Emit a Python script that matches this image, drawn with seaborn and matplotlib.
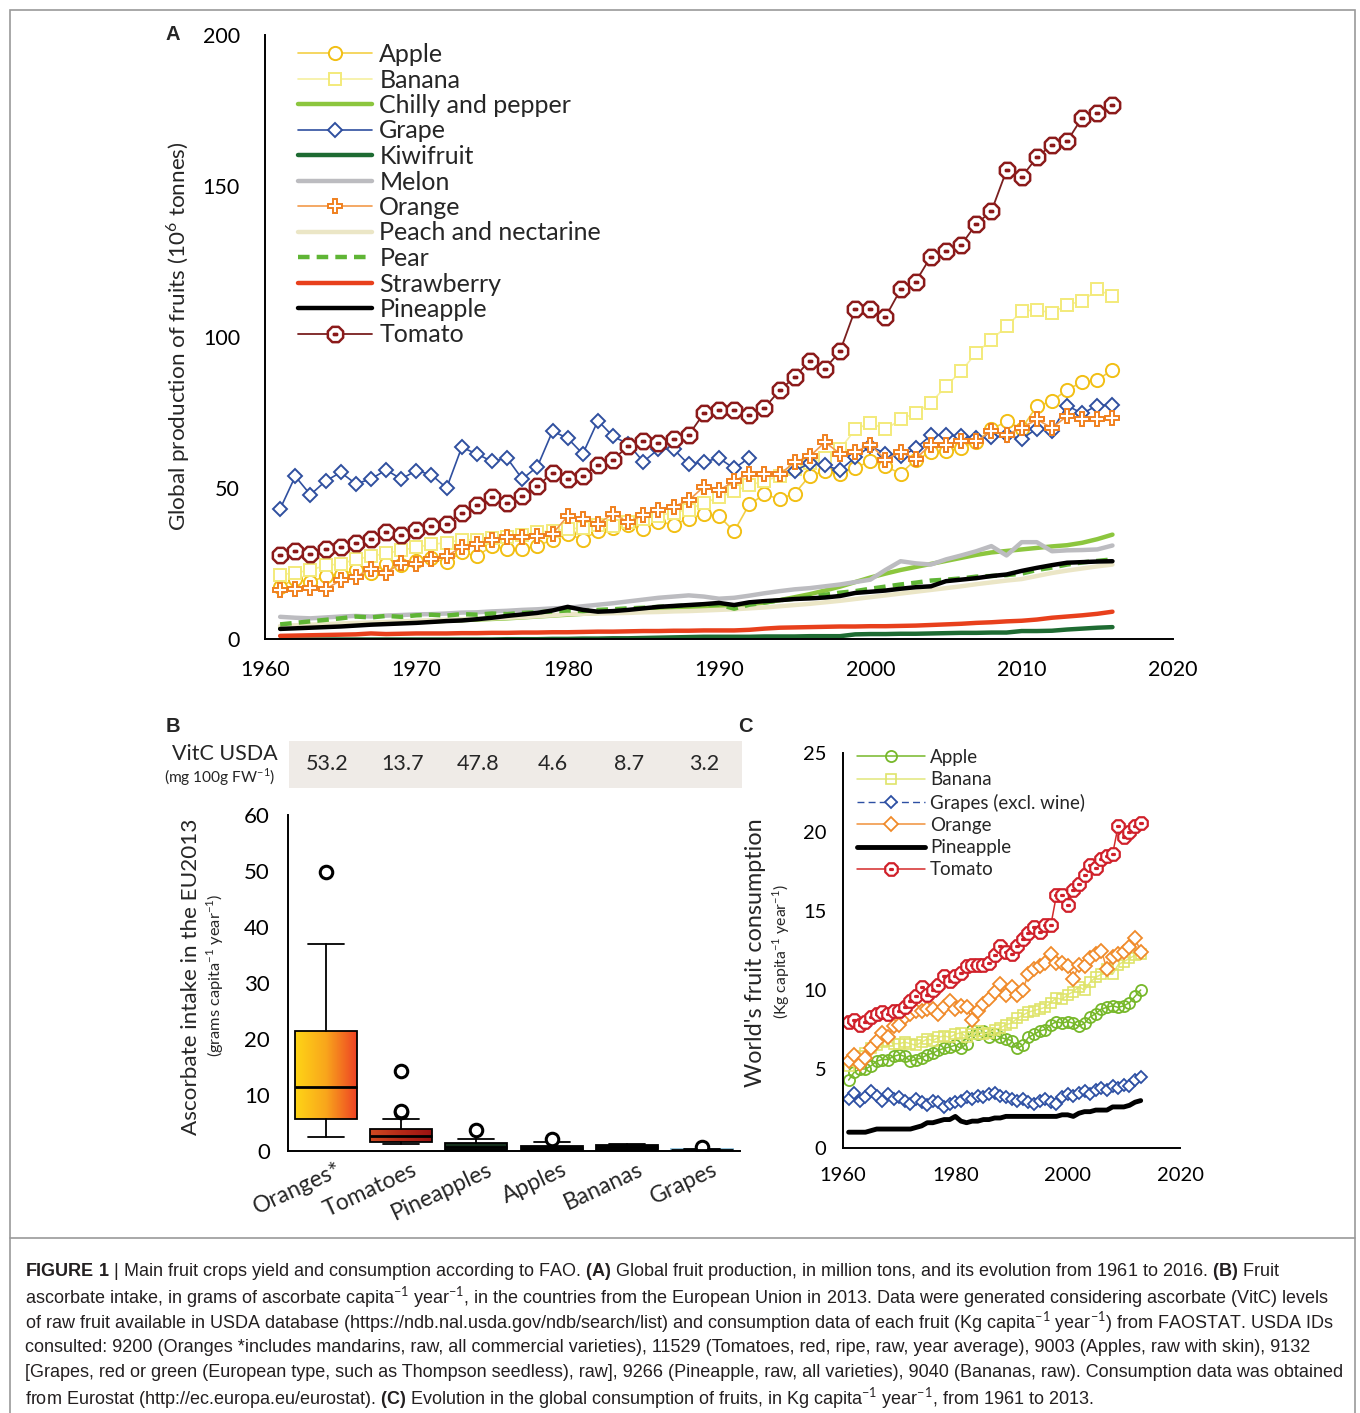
import numpy as np
import pandas as pd
import matplotlib
matplotlib.use("Agg")
import matplotlib.pyplot as plt
import seaborn as sns
from matplotlib.path import Path
from matplotlib.patches import Rectangle
from matplotlib.lines import Line2D
from matplotlib.colors import LinearSegmentedColormap
from matplotlib import font_manager

# ---------------- data: panel A (10^6 tonnes, 1961-2016) ----------------
years_a = list(range(1961, 2017))
apple_a = [17.5, 20.0, 19.0, 21.0, 21.5, 23.0, 22.0, 25.0, 24.5, 26.0,
           27.0, 25.5, 29.0, 27.5, 31.0, 30.0, 30.0, 31.0, 33.0, 35.0,
           33.0, 36.0, 37.0, 38.0, 36.5, 39.0, 38.0, 40.0, 41.5, 40.8,
           35.8, 44.7, 48.0, 46.5, 48.3, 54.2, 55.7, 54.9, 56.8, 59.0,
           57.3, 54.9, 59.5, 62.0, 62.3, 63.4, 65.5, 69.5, 72.2, 69.8,
           77.2, 78.8, 82.7, 85.1, 85.8, 89.3]
banana_a = [21.5, 22.0, 23.0, 24.5, 25.0, 26.5, 27.5, 28.5, 29.5, 30.5,
            31.5, 32.0, 33.0, 33.0, 33.5, 33.8, 34.5, 35.5, 36.0, 36.5,
            37.0, 38.0, 37.5, 39.0, 40.0, 41.0, 42.0, 43.0, 45.2, 47.0,
            49.0, 51.0, 52.5, 54.0, 56.5, 58.5, 60.0, 63.0, 69.5, 71.7,
            69.5, 72.8, 75.0, 78.3, 83.8, 88.8, 94.8, 99.2, 103.6, 108.6,
            109.1, 108.0, 110.8, 111.9, 115.8, 113.6]
chilly_a = [4.0, 4.2, 4.4, 4.6, 4.8, 5.0, 5.2, 5.4, 5.6, 5.8,
            6.0, 6.2, 6.4, 6.6, 6.8, 7.0, 7.3, 7.6, 7.9, 8.2,
            8.5, 8.8, 9.0, 9.3, 9.6, 9.9, 10.2, 10.5, 10.8, 11.0,
            11.2, 11.6, 12.2, 13.0, 14.0, 15.0, 16.2, 17.5, 19.0, 20.5,
            21.8, 23.0, 24.0, 25.0, 26.0, 27.0, 28.0, 28.8, 29.3, 29.8,
            30.3, 30.8, 31.2, 32.0, 33.2, 34.7]
grape_a = [43.2, 54.0, 47.9, 52.4, 55.3, 51.5, 53.1, 56.1, 53.1, 55.9,
           54.5, 50.1, 63.6, 61.4, 58.9, 60.0, 53.1, 57.2, 68.9, 66.6,
           61.4, 72.4, 67.2, 64.7, 58.8, 63.0, 63.0, 57.9, 58.8, 60.0,
           56.6, 60.1, np.nan, np.nan, 55.7, 58.4, 57.6, 56.0, 60.3, 63.9,
           61.5, 60.6, 63.2, 67.6, 67.6, 67.3, 66.7, 66.9, 67.6, 66.4,
           69.7, 68.9, 77.4, 74.8, 77.4, 77.7]
kiwi_a = [0.0, 0.0, 0.0, 0.0, 0.0, 0.0, 0.0, 0.0, 0.0, 0.0,
          0.0, 0.0, 0.0, 0.0, 0.0, 0.1, 0.1, 0.1, 0.2, 0.2,
          0.3, 0.3, 0.4, 0.4, 0.5, 0.6, 0.7, 0.8, 0.9, 0.9,
          0.9, 0.9, 1.0, 1.0, 1.0, 1.1, 1.1, 1.1, 1.7, 1.8,
          1.8, 1.9, 1.9, 2.0, 2.1, 2.2, 2.2, 2.3, 2.3, 2.8,
          2.8, 2.9, 3.3, 3.6, 3.9, 4.1]
melon_a = [7.5, 7.2, 7.0, 7.3, 7.6, 7.8, 7.6, 7.9, 8.1, 8.3,
           8.4, 8.6, 8.9, 9.0, 9.3, 9.5, 9.8, 10.0, 10.3, 10.5,
           11.0, 11.5, 12.0, 12.6, 13.2, 13.8, 14.2, 14.6, 14.2, 13.5,
           13.8, 14.5, 15.3, 16.0, 16.6, 17.0, 17.6, 18.2, 19.0, 19.8,
           23.0, 25.9, 25.2, 24.8, 26.5, 27.8, 29.2, 30.9, 27.8, 32.2,
           32.2, 29.2, 29.5, 29.6, 29.8, 31.1]
orange_a = [16.3, 16.6, 17.1, 16.6, 19.6, 20.7, 23.4, 22.1, 25.3, 25.1,
            26.7, 27.6, 30.6, 31.7, 32.8, 33.9, 33.9, 34.2, 35.0, 40.8,
            39.9, 38.3, 41.6, 38.8, 41.2, 43.0, 44.0, 46.0, 50.6, 49.3,
            52.4, 54.9, 54.9, 54.6, 58.7, 60.6, 65.3, 61.5, 62.0, 64.5,
            59.5, 62.0, 59.8, 64.5, 64.5, 65.6, 65.6, 68.9, 67.8, 70.0,
            72.8, 70.0, 73.9, 72.8, 72.8, 73.3]
peach_a = [4.5, 4.7, 4.9, 5.1, 5.3, 5.5, 5.6, 5.8, 6.0, 6.2,
           6.4, 6.5, 6.7, 6.9, 7.0, 7.2, 7.4, 7.7, 8.0, 8.4,
           8.5, 8.6, 8.7, 8.8, 9.0, 9.1, 9.3, 9.4, 9.6, 9.8,
           10.0, 10.3, 10.6, 11.0, 11.4, 11.8, 12.3, 12.8, 13.4, 14.0,
           14.6, 15.2, 15.8, 16.4, 17.0, 17.6, 18.3, 18.9, 19.5, 20.0,
           21.0, 22.0, 22.8, 23.5, 24.2, 24.8]
pear_a = [5.0, 5.5, 6.0, 6.5, 7.0, 7.6, 7.3, 7.8, 7.5, 8.0,
          8.2, 7.9, 8.4, 8.2, 8.6, 8.4, 8.8, 9.0, 9.3, 9.6,
          9.4, 9.8, 10.0, 10.3, 10.5, 10.8, 11.0, 11.3, 11.5, 11.6,
          10.2, 11.5, 12.2, 13.0, 13.5, 14.0, 14.8, 15.5, 16.0, 16.8,
          17.5, 18.2, 18.8, 19.5, 19.8, 20.2, 20.8, 21.0, 21.3, 21.8,
          23.0, 23.8, 24.8, 25.5, 26.0, 26.5]
strawberry_a = [1.2, 1.3, 1.4, 1.5, 1.6, 1.7, 2.0, 1.8, 1.9, 2.0,
                2.0, 2.0, 2.1, 2.1, 2.2, 2.2, 2.3, 2.3, 2.4, 2.4,
                2.5, 2.6, 2.6, 2.7, 2.8, 2.8, 2.9, 2.9, 3.0, 3.0,
                3.0, 3.2, 3.6, 3.9, 4.0, 4.1, 4.2, 4.3, 4.3, 4.4,
                4.4, 4.5, 4.6, 4.8, 5.0, 5.2, 5.5, 5.7, 6.0, 6.2,
                6.6, 7.2, 7.6, 8.0, 8.5, 9.2]
pineapple_a = [3.5, 3.7, 3.9, 4.1, 4.3, 4.6, 4.9, 5.1, 5.3, 5.5,
               5.8, 6.1, 6.3, 6.7, 7.2, 7.8, 8.3, 8.8, 9.6, 10.8,
               9.8, 9.2, 9.4, 9.8, 10.3, 10.8, 11.1, 11.4, 11.7, 12.1,
               11.4, 12.3, 12.7, 13.0, 13.4, 13.6, 13.9, 14.4, 15.4, 15.8,
               16.2, 16.8, 17.3, 17.6, 19.3, 19.8, 20.3, 21.0, 21.5, 22.7,
               23.7, 24.6, 25.4, 25.6, 25.8, 25.9]
tomato_a = [27.8, 29.3, 28.4, 29.8, 30.6, 31.9, 33.3, 35.5, 34.7, 36.1,
            37.7, 38.3, 41.8, 44.6, 47.3, 45.1, 47.6, 50.9, 55.0, 53.1,
            54.2, 57.8, 59.4, 64.1, 65.8, 64.9, 66.3, 67.7, 74.8, 76.0,
            76.0, 74.3, 76.6, 82.4, 86.8, 92.3, 89.6, 95.4, 109.2, 109.2,
            106.7, 115.8, 118.4, 126.7, 128.4, 130.5, 137.5, 141.7, 155.2, 153.0,
            159.5, 163.7, 164.8, 172.7, 174.1, 176.9]

# ---------------- data: panel B (g capita-1 year-1, EU 2013) ----------------
box_fruits = ["Oranges*", "Tomatoes", "Pineapples", "Apples", "Bananas", "Grapes"]
vitc_usda = ["53.2", "13.7", "47.8", "4.6", "8.7", "3.2"]
box_whislo = [2.5, 1.2, 0.0, 0.0, 0.0, 0.0]
box_q1 = [5.8, 1.6, 0.1, 0.1, 0.2, 0.05]
box_med = [11.5, 2.7, 0.8, 0.6, 0.8, 0.15]
box_q3 = [21.4, 3.9, 1.4, 0.9, 1.1, 0.3]
box_whishi = [36.9, 5.8, 2.1, 1.6, 1.3, 0.35]
box_fliers = [[49.8], [6.9, 7.2, 14.3], [3.8], [2.2], [], [0.8]]

# ---------------- data: panel C (kg capita-1 year-1, 1961-2013) ----------------
years_c = list(range(1961, 2014))
apple_c = [4.3, 4.8, 5.0, 5.0, 5.2, 5.5, 5.6, 5.6, 5.8, 5.9,
           5.8, 5.5, 5.6, 5.7, 5.9, 6.0, 6.2, 6.3, 6.4, 6.5,
           6.3, 6.6, 7.5, 7.2, 7.4, 7.0, 7.2, 7.0, 6.9, 6.8,
           6.3, 6.5, 7.0, 7.2, 7.4, 7.5, 7.8, 8.0, 7.9, 8.0,
           7.9, 7.7, 7.9, 8.3, 8.5, 8.8, 8.9, 9.0, 8.9, 9.0,
           9.2, 9.6, 10.0]
banana_c = [5.2, 5.5, 5.8, 6.0, 6.3, 6.5, 6.7, 6.8, 6.6, 6.6,
            6.7, 6.6, 6.5, 6.7, 6.9, 6.8, 7.0, 7.1, 7.0, 7.2,
            7.3, 7.0, 7.2, 7.4, 7.2, 7.3, 7.5, 7.6, 7.8, 7.9,
            8.2, 8.4, 8.6, 8.7, 8.8, 8.9, 9.2, 9.5, 9.4, 9.7,
            9.9, 10.2, 10.0, 10.5, 10.8, 11.0, 11.3, 11.0, 11.6, 11.8,
            12.0, 12.2, 12.3]
grapes_c = [3.1, 3.5, 3.0, 3.2, 3.6, 3.3, 3.0, 3.4, 3.1, 3.2,
            3.0, 2.8, 3.1, 2.9, 2.7, 3.0, 2.9, 2.6, 2.8, 2.9,
            3.0, 3.2, 3.1, 3.3, 3.2, 3.4, 3.5, 3.3, 3.2, 3.1,
            3.0, 3.1, 2.9, 2.8, 3.0, 3.1, 2.9, 2.8, 3.2, 3.4,
            3.3, 3.5, 3.6, 3.4, 3.7, 3.8, 3.7, 3.9, 3.8, 4.0,
            3.9, 4.3, 4.5]
orange_c = [5.5, 5.9, 5.3, 5.7, 6.3, 6.8, 7.3, 7.0, 7.7, 7.8,
            8.3, 8.5, 8.7, 8.7, 8.8, 8.8, 8.5, 8.9, 9.3, 8.8,
            9.0, 8.9, 8.1, 8.7, 9.1, 9.4, 9.9, 10.4, 9.7, 10.2,
            9.7, 10.0, 11.0, 11.3, 11.5, 11.7, 12.3, 11.7, 11.7, 11.5,
            10.7, 11.6, 11.5, 12.0, 12.3, 12.5, 11.3, 12.1, 12.3, 12.4,
            12.7, 13.3, 12.4]
pineapple_c = [1.0, 1.0, 1.0, 1.0, 1.1, 1.2, 1.2, 1.2, 1.2, 1.2,
               1.2, 1.2, 1.3, 1.4, 1.6, 1.6, 1.7, 1.8, 1.8, 2.0,
               1.7, 1.6, 1.7, 1.7, 1.8, 1.8, 1.9, 1.9, 2.0, 2.0,
               2.0, 2.0, 2.0, 2.0, 2.0, 2.0, 2.0, 2.0, 2.1, 2.1,
               2.0, 2.2, 2.3, 2.3, 2.4, 2.4, 2.4, 2.6, 2.6, 2.6,
               2.7, 2.9, 3.0]
tomato_c = [8.0, 8.1, 7.8, 8.0, 8.3, 8.5, 8.6, 8.5, 8.7, 8.7,
            8.9, 9.3, 9.6, 10.2, 9.7, 10.0, 10.3, 10.9, 10.6, 10.9,
            11.1, 11.5, 11.6, 11.6, 11.6, 11.7, 12.2, 12.8, 12.4, 12.3,
            12.8, 13.2, 13.6, 14.0, 13.7, 14.1, 14.1, 16.0, 16.0, 15.4,
            16.3, 16.7, 17.3, 17.9, 17.7, 18.3, 18.5, 18.6, 20.4, 19.7,
            20.0, 20.4, 20.6]

# ---------------- style ----------------
sns.set_theme(style="white")
plt.rcParams["font.family"] = ["Lato", "DejaVu Sans"]
try:
    font_manager.findfont("Liberation Sans Narrow", fallback_to_default=False)
    cap_font, cap_size = "Liberation Sans Narrow", 13.2
except ValueError:
    cap_font, cap_size = "Liberation Sans", 13.0
plt.rcParams["mathtext.fontset"] = "custom"
plt.rcParams["mathtext.rm"] = "Lato"
plt.rcParams["mathtext.bf"] = cap_font + ":bold"

W, H = 1360, 1413
fig = plt.figure(figsize=(W / 100, H / 100), dpi=100)
fig.patch.set_facecolor("white")


def px_axes(x0, y0, x1, y1):
    return fig.add_axes([x0 / W, 1 - y1 / H, (x1 - x0) / W, (y1 - y0) / H])


def style_axes(ax, size):
    for s in ["top", "right"]:
        ax.spines[s].set_visible(False)
    for s in ["left", "bottom"]:
        ax.spines[s].set_linewidth(1.4)
        ax.spines[s].set_color("black")
    ax.tick_params(which="both", direction="out", width=1.4, color="black",
                   labelsize=size, labelcolor="black")
    ax.set_facecolor("white")
    ax.grid(False)


def tomato_marker():
    ang = np.deg2rad(22.5 + 45 * np.arange(8))
    ring = np.column_stack([np.cos(ang), np.sin(ang)])
    dot = np.array([[-0.2, -0.07], [0.2, -0.07], [0.2, 0.07], [-0.2, 0.07]])
    verts = np.vstack([ring, ring[:1], dot, dot[:1]])
    codes = [Path.MOVETO] + [Path.LINETO] * 7 + [Path.CLOSEPOLY] + \
            [Path.MOVETO] + [Path.LINETO] * 3 + [Path.CLOSEPOLY]
    return Path(verts, codes)


TOM = tomato_marker()

# ---------------- panel A ----------------
ax_a = px_axes(265, 35, 1173, 639.5)
style_axes(ax_a, 15.5)

marked = dict(markerfacecolor="white", markeredgewidth=1.4)
series_a = [
    ("Apple", apple_a, dict(color="#f3cf45", linewidth=1.2, marker="o", markersize=9.5,
                            markeredgecolor="#f2bf14", **marked)),
    ("Banana", banana_a, dict(color="#f6f0a0", linewidth=1.2, marker="s", markersize=9,
                              markeredgecolor="#f3ea7a", **marked)),
    ("Chilly and pepper", chilly_a, dict(color="#8cc63e", linewidth=3.2)),
    ("Grape", grape_a, dict(color="#2f4f9f", linewidth=1.2, marker="D", markersize=7,
                            markeredgecolor="#2f4f9f", **marked)),
    ("Kiwifruit", kiwi_a, dict(color="#1e6b32", linewidth=3.2)),
    ("Melon", melon_a, dict(color="#bcbcc0", linewidth=3.2)),
    ("Orange", orange_a, dict(color="#f29a4a", linewidth=1.2, marker="P", markersize=10,
                              markeredgecolor="#f0801e", **marked)),
    ("Peach and nectarine", peach_a, dict(color="#ebe6c6", linewidth=3.2)),
    ("Pear", pear_a, dict(color="#5fb535", linewidth=3.2, linestyle=(0, (2.6, 1.6)))),
    ("Strawberry", strawberry_a, dict(color="#e8401c", linewidth=3.2)),
    ("Pineapple", pineapple_a, dict(color="black", linewidth=3.2)),
    ("Tomato", tomato_a, dict(color="#7a1f1f", linewidth=1.3, marker=TOM, markersize=11,
                              markeredgecolor="#8b1a1a", markerfacecolor="white",
                              markeredgewidth=1.8)),
]

for name, vals, kw in series_a:
    s = pd.Series(vals, index=years_a, dtype=float)
    run_id = s.isna().cumsum()
    first = True
    for _, seg in s.dropna().groupby(run_id[s.notna()]):
        sns.lineplot(x=seg.index, y=seg.values, ax=ax_a, errorbar=None,
                     label=name if first else None, legend=False, **kw)
        first = False

# first segment of each series carries the label
lab_lines = [l for l in ax_a.lines if not l.get_label().startswith("_")]
ax_a.legend(handles=lab_lines, labels=[l.get_label() for l in lab_lines],
            loc="upper left", bbox_to_anchor=((298 - 265) / 908, (639.5 - 43) / 604.5),
            frameon=False, borderpad=0, borderaxespad=0, handlelength=2.95,
            handletextpad=0.3, labelspacing=0.1, fontsize=18, numpoints=1)

ax_a.set_xlim(1960, 2020)
ax_a.set_ylim(0, 200)
ax_a.set_xticks(range(1960, 2021, 10))
ax_a.set_yticks(range(0, 201, 50))
ax_a.tick_params(axis="y", length=9, pad=9)
ax_a.tick_params(axis="x", length=9, pad=6)
ax_a.set_xlabel("")
ax_a.set_ylabel("")

# ---------------- panel B ----------------
ax_b = px_axes(288, 815, 740, 1151)
style_axes(ax_b, 16)
stats = [dict(label=n, whislo=lo, q1=a, med=m, q3=b, whishi=hi, fliers=f)
         for n, lo, a, m, b, hi, f in zip(box_fruits, box_whislo, box_q1, box_med,
                                          box_q3, box_whishi, box_fliers)]
bp = ax_b.bxp(stats, positions=range(len(stats)), widths=0.82, capwidths=0.48,
              patch_artist=True, showfliers=True,
              boxprops=dict(linewidth=1.3, edgecolor="black"),
              whiskerprops=dict(linewidth=1.3, color="black"),
              capprops=dict(linewidth=1.3, color="black"),
              medianprops=dict(linewidth=2.0, color="black"),
              flierprops=dict(marker="o", markersize=9, markerfacecolor="white",
                              markeredgecolor="black", markeredgewidth=2.2))
box_faces = ["none", "none", "#15301c", "#111111", "#111111", "#9ccbe0"]
for patch, fc in zip(bp["boxes"], box_faces):
    patch.set_facecolor(fc)
bp["boxes"][5].set_edgecolor("#8fc0da")
grad = np.linspace(0, 1, 256).reshape(1, -1)
for i, cols in [(0, ["#ffd516", "#f9a61c", "#ee4224"]), (1, ["#cf4a22", "#b52a18", "#9c1212"])]:
    cmap = LinearSegmentedColormap.from_list("g%d" % i, cols)
    im = ax_b.imshow(grad, extent=(i - 0.41, i + 0.41, box_q1[i], box_q3[i]),
                     aspect="auto", cmap=cmap, zorder=1.9, interpolation="bilinear")
    im.set_clip_path(bp["boxes"][i])

ax_b.set_xlim(-0.5, 5.5)
ax_b.set_ylim(0, 60)
ax_b.set_yticks(range(0, 61, 10))
ax_b.set_xticks(np.arange(-0.5, 6, 1))
ax_b.set_xticklabels([])
ax_b.tick_params(axis="y", length=9, pad=4)
ax_b.tick_params(axis="x", length=11)
for i, name in enumerate(box_fruits):
    ax_b.text(i + 0.13, -1.4, name, rotation=25, ha="right", va="top",
              rotation_mode="anchor", fontsize=16.5, clip_on=False)

# VitC table strip
ax_t = px_axes(289, 741, 742, 788)
ax_t.set_facecolor("#efebe7")
for s in ax_t.spines.values():
    s.set_visible(False)
ax_t.set_xticks([])
ax_t.set_yticks([])
ax_t.set_xlim(-0.5, 5.5)
ax_t.set_ylim(0, 1)
for i, v in enumerate(vitc_usda):
    ax_t.text(i, 0.5, v, ha="center", va="center", fontsize=15.5)
fig.text(225 / W, 1 - 754 / H, "VitC USDA", ha="center", va="center", fontsize=15.5)
fig.text(220 / W, 1 - 777 / H, r"(mg 100g FW$^{-1}$)", ha="center", va="center", fontsize=11.2)

# ---------------- panel C ----------------
ax_c = px_axes(843, 753, 1180, 1148)
style_axes(ax_c, 14.5)
series_c = [
    ("Apple", apple_c, dict(color="#77b82a", linewidth=1.1, marker="o", markersize=8,
                            markerfacecolor="none", markeredgecolor="#77b82a",
                            markeredgewidth=1.3)),
    ("Banana", banana_c, dict(color="#e2e77a", linewidth=1.1, marker="s", markersize=7.5,
                              markerfacecolor="none", markeredgecolor="#dfe46a",
                              markeredgewidth=1.2)),
    ("Grapes (excl. wine)", grapes_c, dict(color="#2d4fa3", linewidth=1.0,
                                           linestyle=(0, (5, 3)), marker="D", markersize=6,
                                           markerfacecolor="white", markeredgecolor="#2d4fa3",
                                           markeredgewidth=1.3)),
    ("Orange", orange_c, dict(color="#f0913a", linewidth=1.1, marker="D", markersize=7.5,
                              markerfacecolor="white", markeredgecolor="#f08a2a",
                              markeredgewidth=1.3)),
    ("Pineapple", pineapple_c, dict(color="black", linewidth=3.5)),
    ("Tomato", tomato_c, dict(color="#d42a2a", linewidth=1.1, marker=TOM, markersize=9,
                              markerfacecolor="white", markeredgecolor="#d0202a",
                              markeredgewidth=1.6)),
]
for name, vals, kw in series_c:
    sns.lineplot(x=years_c, y=vals, ax=ax_c, errorbar=None, label=name, legend=False, **kw)
ax_c.legend(loc="upper left", bbox_to_anchor=((857 - 843) / 337, (1148 - 749) / 395),
            frameon=False, borderpad=0, borderaxespad=0, handlelength=3.6,
            handletextpad=0.3, labelspacing=0.28, fontsize=13.5, numpoints=1)
ax_c.set_xlim(1960, 2020)
ax_c.set_ylim(0, 25)
ax_c.set_xticks(range(1960, 2021, 20))
ax_c.set_xticks(range(1970, 2020, 20), minor=True)
ax_c.set_yticks(range(0, 26, 5))
ax_c.tick_params(axis="y", length=10, pad=2)
ax_c.tick_params(axis="x", which="both", length=10, pad=4)
ax_c.set_xlabel("")
ax_c.set_ylabel("")

# ---------------- axis titles & panel letters ----------------
fig.text(178 / W, 1 - 336 / H, r"Global production of fruits (10$^{6}$ tonnes)",
         rotation=90, ha="center", va="center", fontsize=16.2)
fig.text(191 / W, 1 - 977 / H, "Ascorbate intake in the EU2013",
         rotation=90, ha="center", va="center", fontsize=16.2)
fig.text(215 / W, 1 - 975 / H, r"(grams capita$^{-1}$ year$^{-1}$)",
         rotation=90, ha="center", va="center", fontsize=11.8)
fig.text(756 / W, 1 - 953 / H, "World's fruit consumption",
         rotation=90, ha="center", va="center", fontsize=16.8)
fig.text(781 / W, 1 - 952 / H, r"(Kg capita$^{-1}$ year$^{-1}$)",
         rotation=90, ha="center", va="center", fontsize=11.3)
for letter, x, y in [("A", 173, 35), ("B", 173, 727), ("C", 745, 727)]:
    fig.text(x / W, 1 - y / H, letter, ha="center", va="center", fontsize=14.5,
             fontweight="bold", family=["Liberation Sans", "DejaVu Sans"])

# ---------------- caption ----------------
caption = [
    r"$\mathbf{FIGURE\ 1}$ | Main fruit crops yield and consumption according to FAO. $\mathbf{(A)}$ Global fruit production, in million tons, and its evolution from 1961 to 2016. $\mathbf{(B)}$ Fruit",
    r"ascorbate intake, in grams of ascorbate capita$^{-1}$ year$^{-1}$, in the countries from the European Union in 2013. Data were generated considering ascorbate (VitC) levels",
    r"of raw fruit available in USDA database (https://ndb.nal.usda.gov/ndb/search/list) and consumption data of each fruit (Kg capita$^{-1}$ year$^{-1}$) from FAOSTAT. USDA IDs",
    "consulted: 9200 (Oranges *includes mandarins, raw, all commercial varieties), 11529 (Tomatoes, red, ripe, raw, year average), 9003 (Apples, raw with skin), 9132",
    "[Grapes, red or green (European type, such as Thompson seedless), raw], 9266 (Pineapple, raw, all varieties), 9040 (Bananas, raw). Consumption data was obtained",
    r"from Eurostat (http://ec.europa.eu/eurostat). $\mathbf{(C)}$ Evolution in the global consumption of fruits, in Kg capita$^{-1}$ year$^{-1}$, from 1961 to 2013.",
]
for k, line in enumerate(caption):
    fig.text(25 / W, 1 - (1272 + 25.2 * k) / H, line, ha="left", va="center",
             fontsize=cap_size, family=[cap_font, "DejaVu Sans"], color="#231f20")

fig.add_artist(Rectangle((10 / W, -0.01), 1345 / W, 1 - 10 / H + 0.01,
                         transform=fig.transFigure, fill=False,
                         edgecolor="#9a9a9a", linewidth=1.2))
fig.add_artist(Line2D([10 / W, 1355 / W], [1 - 1238 / H] * 2,
                      transform=fig.transFigure, color="#9a9a9a", linewidth=1.2))

fig.savefig("out.png", dpi=100, facecolor="white")
